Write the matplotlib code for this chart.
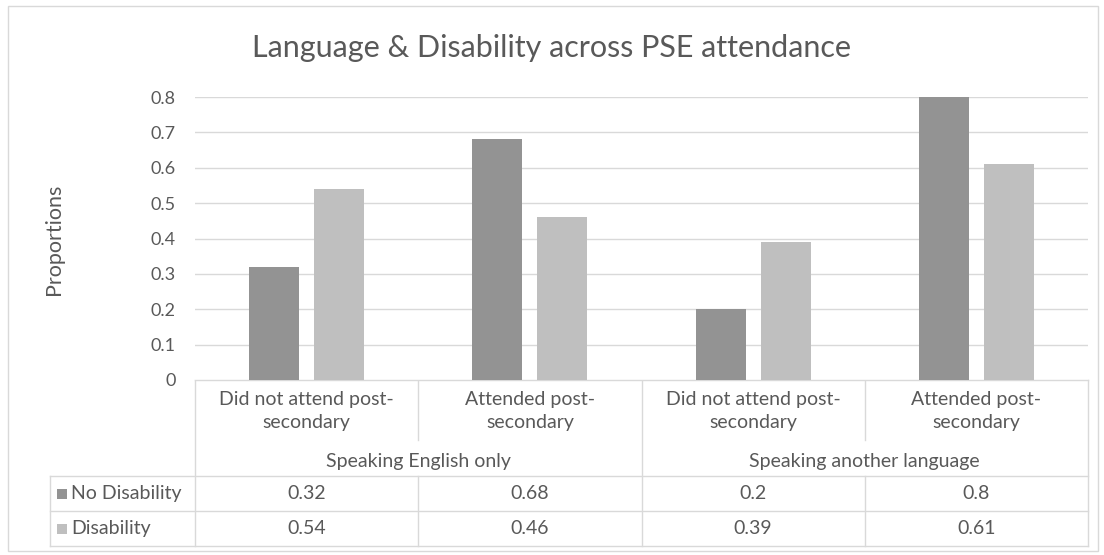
import matplotlib.pyplot as plt

# chart data
categories = ["Did not attend post-\nsecondary", "Attended post-\nsecondary",
              "Did not attend post-\nsecondary", "Attended post-\nsecondary"]
groups = ["Speaking English only", "Speaking another language"]
series = ["No Disability", "Disability"]
no_disability = [0.32, 0.68, 0.2, 0.8]
disability = [0.54, 0.46, 0.39, 0.61]
value_labels = [["0.32", "0.68", "0.2", "0.8"], ["0.54", "0.46", "0.39", "0.61"]]
yticks = [0, 0.1, 0.2, 0.3, 0.4, 0.5, 0.6, 0.7, 0.8]

plt.rcParams['font.family'] = ['Lato', 'DejaVu Sans']
txt = '#595959'
grid = '#d9d9d9'
colors = ['#939393', '#bfbfbf']

W, H = 1104, 555
fig = plt.figure(figsize=(W / 100, H / 100), dpi=100)

# overlay in pixel coordinates for frame, title and data table
bg = fig.add_axes([0, 0, 1, 1])
bg.set_xlim(0, W)
bg.set_ylim(H, 0)
bg.axis('off')
bg.add_patch(plt.Rectangle((8, 6), W - 14, H - 10, fill=False, ec=grid, lw=1))

# plot area
L, R, T, B = 195, 1088, 97, 380
ax = fig.add_axes([L / W, 1 - B / H, (R - L) / W, (B - T) / H])
x = list(range(len(categories)))
bw = 50 / 223
off = 32.5 / 223
ax.bar([i - off for i in x], no_disability, bw, color=colors[0], zorder=3)
ax.bar([i + off for i in x], disability, bw, color=colors[1], zorder=3)
ax.set_xlim(-0.5, len(categories) - 0.5)
ax.set_ylim(0, 0.8)
ax.set_yticks(yticks)
ax.set_yticklabels([f"{v:g}" for v in yticks])
ax.set_xticks([])
ax.tick_params(axis='y', length=0, pad=14, labelsize=13, labelcolor=txt)
ax.yaxis.grid(True, color=grid, lw=1, zorder=0)
for s in ax.spines.values():
    s.set_visible(False)

bg.text(54, 239, "Proportions", rotation=90, ha='center', va='center',
        fontsize=15.5, color=txt)
bg.text(W / 2 - 1, 48, "Language & Disability across PSE attendance",
        ha='center', va='center', fontsize=22, color=txt)

# data table below the plot
cw = (R - L) / len(categories)
col_edges = [L + i * cw for i in range(len(categories) + 1)]
row_top, cat_end, grp_bot, r1, r2 = 380, 440, 476, 511, 546
lc = '#d9d9d9'
bg.plot([L, R], [row_top, row_top], color=lc, lw=1)
bg.plot([50, R], [grp_bot, grp_bot], color=lc, lw=1)
bg.plot([50, R], [r1, r1], color=lc, lw=1)
bg.plot([50, R], [r2, r2], color=lc, lw=1)
bg.plot([50, 50], [grp_bot, r2], color=lc, lw=1)
for i, xe in enumerate(col_edges):
    if i in (0, len(col_edges) - 1, 2):
        bg.plot([xe, xe], [row_top, r2], color=lc, lw=1)
    else:
        bg.plot([xe, xe], [row_top, cat_end], color=lc, lw=1)
        bg.plot([xe, xe], [grp_bot, r2], color=lc, lw=1)
for i, c in enumerate(categories):
    bg.text(L + (i + 0.5) * cw, 411, c, ha='center', va='center',
            fontsize=14, color=txt, linespacing=1.38)
for g, name in enumerate(groups):
    bg.text(L + (2 * g + 1) * cw, 461, name, ha='center', va='center',
            fontsize=14, color=txt)
for r, (name, yc) in enumerate(zip(series, [(grp_bot + r1) / 2, (r1 + r2) / 2])):
    bg.add_patch(plt.Rectangle((57, yc - 5), 10, 10, color=colors[r], lw=0))
    bg.text(71, yc, name, ha='left', va='center', fontsize=14, color=txt)
    for i, v in enumerate(value_labels[r]):
        bg.text(L + (i + 0.5) * cw, yc, v, ha='center', va='center',
                fontsize=14, color=txt)

fig.savefig('out.png', dpi=100)
